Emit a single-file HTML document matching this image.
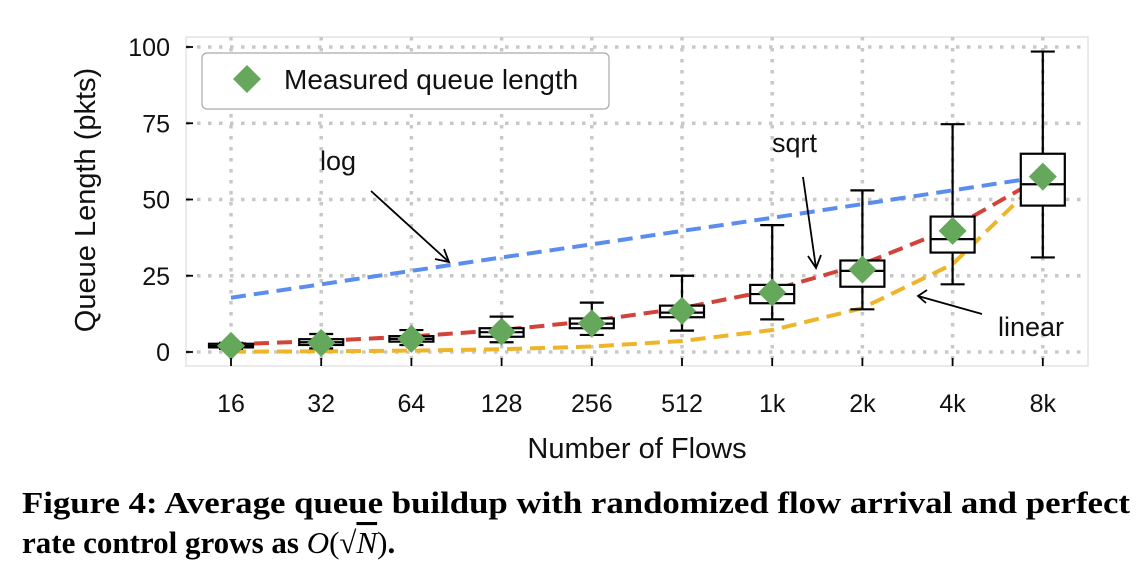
<!DOCTYPE html>
<html><head><meta charset="utf-8"><style>
body{margin:0;background:#fff;width:1138px;height:568px;overflow:hidden}
svg{display:block;font-family:"Liberation Sans",sans-serif}
</style></head><body>
<svg id="chart" width="1138" height="568" viewBox="0 0 1138 568">
<rect x="186" y="37" width="902" height="329" fill="#fff" stroke="#e4e4e4" stroke-width="1.5"/>
<g id="grid"></g>
<g id="lines"></g>
<g id="boxes"></g>
<g id="axes"></g>
<g font-size="27" fill="#111">
<text x="320" y="170">log</text>
<line x1="371" y1="191" x2="449" y2="262" stroke="#000" stroke-width="1.8"/>
<polyline points="435,259 449,262 444,249" fill="none" stroke="#000" stroke-width="1.8"/>
<text x="772" y="152">sqrt</text>
<line x1="803" y1="177" x2="816" y2="268" stroke="#000" stroke-width="1.8"/>
<polyline points="808,256 816,268 821,255" fill="none" stroke="#000" stroke-width="1.8"/>
<text x="998" y="336">linear</text>
<line x1="982" y1="314" x2="918" y2="296" stroke="#000" stroke-width="1.8"/>
<polyline points="927,290 918,296 926,303" fill="none" stroke="#000" stroke-width="1.8"/>
</g>
<g>
<rect x="202" y="53" width="407" height="56" rx="5" fill="#fff" stroke="#aaa" stroke-width="1.2"/>
<polygon points="247,65 261,79 247,93 233,79" fill="#65a85b"/>
<text x="284" y="89" font-size="28" fill="#111">Measured queue length</text>
</g>
<text transform="translate(95,200) rotate(-90)" text-anchor="middle" font-size="29" fill="#111">Queue Length (pkts)</text>
<text x="637" y="458" text-anchor="middle" font-size="29" fill="#111">Number of Flows</text>
<g font-family="'Liberation Serif',serif" font-weight="bold" font-size="31" fill="#000">
<text x="22" y="513" textLength="1108" lengthAdjust="spacingAndGlyphs">Figure 4: Average queue buildup with randomized flow arrival and perfect</text>
<text x="22" y="553">rate control grows as <tspan font-style="italic" font-weight="normal">O</tspan><tspan font-weight="normal">(√<tspan font-style="italic" text-decoration="overline">N</tspan>)</tspan>.</text>
</g>
</svg>
<script>
const categories=["16","32","64","128","256","512","1k","2k","4k","8k"];
const yTicks=[0,25,50,75,100];
const logLine=[17.8,22.2,26.6,31,35.3,39.7,44,48.5,53,57.5];
const sqrtLine=[2.5,3.6,5.1,7.2,10.2,14.4,20.3,28.8,40.7,57.5];
const linearLine=[0.11,0.22,0.45,0.9,1.8,3.6,7.2,14.4,28.8,57.5];
const meanVals=[2,3,4.3,6.7,9.4,13.5,19.5,27,39.7,57.5];
const medianVals=[2,3.2,4.3,6.5,9.3,12.9,19,26.6,37,55];
const q1Vals=[1.5,2.3,3.4,5,7.8,11.4,16,21.4,32.6,48];
const q3Vals=[2.7,4.2,5.2,7.8,11,15.2,22,30,44.4,65];
const whiskLo=[1,1.2,2.3,3.2,5.6,7,10.7,14,22.2,31];
const whiskHi=[3,5.9,7.2,11.6,16.2,25,41.6,53,74.7,98.5];

const NS="http://www.w3.org/2000/svg";
const xs=i=>231+i*90.2;
const ys=v=>352-v*3.05;
function mk(tag,attrs,parent){const e=document.createElementNS(NS,tag);for(const k in attrs)e.setAttribute(k,attrs[k]);parent.appendChild(e);return e;}
const grid=document.getElementById('grid'),axes=document.getElementById('axes'),lines=document.getElementById('lines'),boxes=document.getElementById('boxes');
categories.forEach((c,i)=>{
  const g=mk('line',{x1:xs(i),x2:xs(i),y1:37,y2:366,stroke:'#c8c8c8','stroke-width':3.5,'stroke-dasharray':'3.5,7.5'},grid);
  
  
  const t=mk('line',{x1:xs(i),x2:xs(i),y1:358,y2:366,stroke:'#000','stroke-width':1.8},axes);
  
  
  const l=mk('text',{x:xs(i),y:412,'text-anchor':'middle','font-size':25,fill:'#111'},axes);
  l.textContent=c;
  
  
});
yTicks.forEach(v=>{
  const g=mk('line',{x1:186,x2:1088,y1:ys(v),y2:ys(v),stroke:'#c8c8c8','stroke-width':3.5,'stroke-dasharray':'3.5,7.5'},grid);
  
  
  const t=mk('line',{x1:186,x2:193,y1:ys(v),y2:ys(v),stroke:'#000','stroke-width':1.8},axes);
  
  
  const l=mk('text',{x:170,y:ys(v)+9,'text-anchor':'end','font-size':25,fill:'#111'},axes);
  l.textContent=v;
  
  
});
[[logLine,'#5b8def','log-line'],[linearLine,'#eeb42a','linear-line'],[sqrtLine,'#d2443a','sqrt-line']].forEach(([arr,col,name])=>{
  const p=mk('polyline',{points:arr.map((v,i)=>xs(i)+','+ys(v)).join(' '),fill:'none',stroke:col,'stroke-width':4,'stroke-dasharray':'15,8'},lines);
  
  
});
categories.forEach((c,i)=>{
  const x=xs(i),w=22;
  const g=mk('g',{stroke:'#000','stroke-width':2.2,fill:'none'},boxes);
  
  
  mk('line',{x1:x,x2:x,y1:ys(whiskHi[i]),y2:ys(q3Vals[i])},g);
  mk('line',{x1:x,x2:x,y1:ys(q1Vals[i]),y2:ys(whiskLo[i])},g);
  mk('line',{x1:x-12,x2:x+12,y1:ys(whiskHi[i]),y2:ys(whiskHi[i])},g);
  mk('line',{x1:x-12,x2:x+12,y1:ys(whiskLo[i]),y2:ys(whiskLo[i])},g);
  mk('rect',{x:x-w,y:ys(q3Vals[i]),width:2*w,height:ys(q1Vals[i])-ys(q3Vals[i]),fill:'#fff'},g);
  mk('line',{x1:x-w,x2:x+w,y1:ys(medianVals[i]),y2:ys(medianVals[i])},g);
  const y=ys(meanVals[i]);
  const d=mk('polygon',{points:`${x},${y-14} ${x+14},${y} ${x},${y+14} ${x-14},${y}`,fill:'#65a85b'},boxes);
  
  
});
</script>
</body></html>
